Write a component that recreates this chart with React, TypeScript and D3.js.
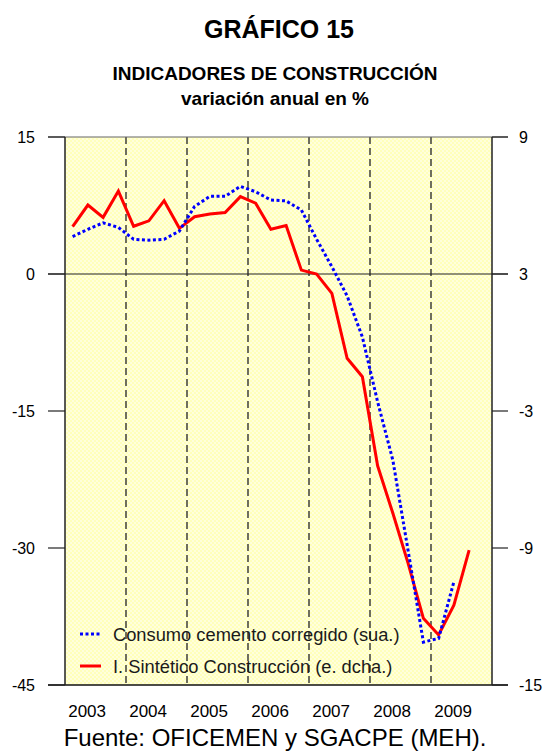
import React from "react";
import * as d3 from "d3";

// quarterly data, 2003Q1 onwards
const years = ["2003", "2004", "2005", "2006", "2007", "2008", "2009"];
const cementValues = [
  4.1, 4.9, 5.6, 5.1, 3.8, 3.7, 3.8, 4.7, 7.4, 8.5, 8.5, 9.6, 9.0, 8.1, 8.0, 7.0,
  3.8, 0.8, -2.4, -6.9, -14.0, -20.4, -30.3, -40.3, -39.9, -33.7,
];
const synthValues = [
  5.07, 6.02, 5.48, 6.63, 5.09, 5.33, 6.21, 5.0, 5.51, 5.63, 5.69, 6.39, 6.1, 4.96,
  5.12, 3.17, 3.0, 2.15, -0.69, -1.5, -5.4, -7.48, -9.67, -12.08, -12.81, -11.5, -9.09,
];
const leftTicks = [15, 0, -15, -30, -45];
const rightTicks = [9, 3, -3, -9, -15];
const legendLabels = [
  "Consumo cemento corregido (sua.)",
  "I. Sintético Construcción (e. dcha.)",
];

const W = 547;
const H = 753;
const plot = { left: 65, right: 492, top: 137, bottom: 685 };
const font = "'Liberation Sans', Arial, sans-serif";

export default function App() {
  const x = d3.scaleLinear().domain([0, years.length * 4]).range([plot.left, plot.right]);
  const yL = d3.scaleLinear().domain([-45, 15]).range([plot.bottom, plot.top]);
  const yR = d3.scaleLinear().domain([-15, 9]).range([plot.bottom, plot.top]);

  const cementLine = d3
    .line<number>()
    .x((_, i) => x(i + 0.5))
    .y((d) => yL(d));
  const synthLine = d3
    .line<number>()
    .x((_, i) => x(i + 0.5))
    .y((d) => yR(d));

  const bounds = d3.range(1, years.length).map((k) => x(k * 4));

  return (
    <svg
      width={W}
      height={H}
      style={{ position: "absolute", left: 0, top: 0, background: "#fff" }}
      fontFamily={font}
    >
      <defs>
        <pattern id="dots" width="4" height="4" patternUnits="userSpaceOnUse">
          <rect width="4" height="4" fill="#FFFFBB" />
          <circle cx="1" cy="1" r="0.9" fill="#FFFFEC" />
          <circle cx="3" cy="3" r="0.9" fill="#FFFFEC" />
        </pattern>
      </defs>

      {/* titles */}
      <text x={279} y={38} textAnchor="middle" fontWeight="bold" fontSize={25}>
        GRÁFICO 15
      </text>
      <text x={275} y={80} textAnchor="middle" fontWeight="bold" fontSize={19}>
        INDICADORES DE CONSTRUCCIÓN
      </text>
      <text x={275} y={105} textAnchor="middle" fontWeight="bold" fontSize={19}>
        variación anual en %
      </text>

      {/* plot background */}
      <rect
        x={plot.left}
        y={plot.top}
        width={plot.right - plot.left}
        height={plot.bottom - plot.top}
        fill="url(#dots)"
      />

      {/* year separators */}
      {bounds.map((bx, i) => (
        <line
          key={i}
          x1={bx}
          x2={bx}
          y1={plot.top}
          y2={plot.bottom}
          stroke="#222"
          strokeWidth={1.3}
          strokeDasharray="7,4"
        />
      ))}

      {/* frame */}
      <line x1={48} x2={508} y1={plot.top} y2={plot.top} stroke="#666" strokeWidth={1.2} />
      <line x1={48} x2={508} y1={yL(0)} y2={yL(0)} stroke="#222" strokeWidth={1.2} />
      <line x1={48} x2={508} y1={plot.bottom} y2={plot.bottom} stroke="#111" strokeWidth={1.5} />
      <line x1={plot.left} x2={plot.left} y1={plot.top} y2={plot.bottom} stroke="#222" strokeWidth={1.5} />
      <line x1={plot.right} x2={plot.right} y1={plot.top} y2={plot.bottom} stroke="#222" strokeWidth={1.5} />

      {/* left axis */}
      {leftTicks.map((t) => (
        <g key={"l" + t}>
          <line x1={48} x2={plot.left} y1={yL(t)} y2={yL(t)} stroke="#222" strokeWidth={1.2} />
          <text x={35} y={yL(t) + 6} textAnchor="end" fontSize={16}>
            {t}
          </text>
        </g>
      ))}
      {/* right axis */}
      {rightTicks.map((t) => (
        <g key={"r" + t}>
          <line x1={plot.right} x2={508} y1={yR(t)} y2={yR(t)} stroke="#222" strokeWidth={1.2} />
          <text x={519} y={yR(t) + 6} textAnchor="start" fontSize={16}>
            {t}
          </text>
        </g>
      ))}

      {/* year labels */}
      {years.map((yr, k) => (
        <text key={yr} x={x(k * 4 + 1.45)} y={717} textAnchor="middle" fontSize={17}>
          {yr}
        </text>
      ))}

      {/* series */}
      <path
        d={synthLine(synthValues) ?? ""}
        fill="none"
        stroke="#FF0000"
        strokeWidth={3}
        strokeLinejoin="miter"
      />
      <path
        d={cementLine(cementValues) ?? ""}
        fill="none"
        stroke="#0000FF"
        strokeWidth={3}
        strokeDasharray="3,2.5"
      />

      {/* legend */}
      <line x1={80} x2={100} y1={634} y2={634} stroke="#0000FF" strokeWidth={3} strokeDasharray="3,2.5" />
      <text x={113} y={641} fontSize={18.3} fill="#1a1a1a">
        {legendLabels[0]}
      </text>
      <line x1={80} x2={101} y1={666} y2={666} stroke="#FF0000" strokeWidth={3} />
      <text x={113} y={673} fontSize={18.3} fill="#1a1a1a">
        {legendLabels[1]}
      </text>

      {/* source */}
      <text x={275} y={746} textAnchor="middle" fontSize={24}>
        Fuente: OFICEMEN y SGACPE (MEH).
      </text>
    </svg>
  );
}
